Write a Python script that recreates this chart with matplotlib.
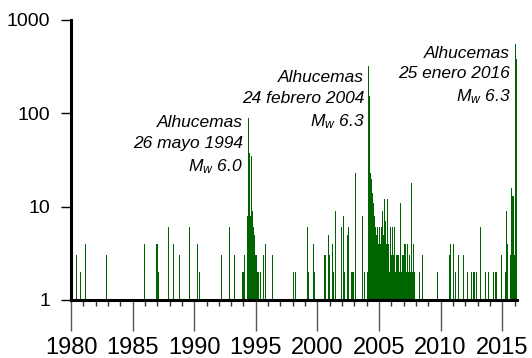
import numpy as np
import matplotlib.pyplot as plt
from matplotlib import font_manager
from matplotlib.ticker import FixedLocator, NullLocator

# monthly number of earthquakes (decimal year, count); months with 0-1 not shown
anios_a = [1980.43, 1980.78, 1981.19, 1982.90, 1985.98, 1986.95, 1987.04, 1987.12,
           1987.95, 1988.30, 1988.80, 1989.63, 1990.28, 1990.45, 1992.23, 1992.88,
           1993.31, 1993.96, 1994.12]
conteo_a = [3, 2, 4, 3, 4, 4, 4, 2,
            6, 4, 3, 6, 4, 2, 3, 6,
            3, 2, 3]

anios_b = [1994.29, 1994.375, 1994.46, 1994.54, 1994.625, 1994.71, 1994.79, 1994.875,
           1994.96, 1995.04, 1995.125, 1995.21, 1995.375, 1995.66, 1995.79, 1996.34,
           1998.04, 1998.21]
conteo_b = [8, 90, 38, 8, 35, 9, 6, 5,
            3, 3, 2, 2, 2, 3, 4, 3,
            2, 2]

anios_c = [1999.21, 1999.29, 1999.71, 1999.79, 2000.54, 2000.625, 2000.875, 2000.96,
           2001.21, 2001.29, 2001.46, 2001.96, 2002.125, 2002.21, 2002.46, 2002.54,
           2002.79, 2002.875, 2002.96, 2003.125, 2003.625, 2003.79, 2004.04]
conteo_c = [6, 2, 4, 2, 3, 3, 5, 3,
            4, 2, 9, 6, 8, 2, 5, 6,
            2, 2, 2, 23, 8, 2, 2]

# Feb 2004 .. Dec 2007, one value per month
conteo_d = [318, 153, 23, 20, 14, 11, 8, 6, 5, 6, 4,
            6, 4, 6, 9, 5, 12, 7, 4, 12, 4, 2, 6,
            3, 6, 3, 6, 2, 3, 3, 2, 11, 2, 3, 3,
            4, 4, 2, 4, 2, 3, 2, 18, 2, 4, 2, 0]
anios_d = [2004 + (m + 1.5) / 12 for m in range(len(conteo_d))]

anios_e = [2008.29, 2008.54, 2009.71, 2010.71, 2010.79, 2011.04, 2011.21, 2011.46,
           2011.875, 2012.21, 2012.54, 2012.71, 2012.875, 2013.21, 2013.625, 2013.875,
           2014.29, 2014.46, 2014.54, 2014.96, 2015.29, 2015.375, 2015.46, 2015.71,
           2015.79, 2015.875, 2015.96, 2016.04, 2016.125]
conteo_e = [2, 3, 2, 3, 4, 4, 2, 3,
            3, 2, 2, 2, 2, 6, 2, 2,
            2, 2, 2, 3, 2, 9, 4, 3,
            16, 13, 3, 550, 380]

anios = anios_a + anios_b + anios_c + anios_d + anios_e
conteos = conteo_a + conteo_b + conteo_c + conteo_d + conteo_e

notas = ["Alhucemas\n26 mayo 1994\n$M_w$ 6.0",
         "Alhucemas\n24 febrero 2004\n$M_w$ 6.3",
         "Alhucemas\n25 enero 2016\n$M_w$ 6.3"]
notas_x = [1993.95, 2003.8, 2015.65]
notas_y = [95, 290, 530]

nombres = {f.name for f in font_manager.fontManager.ttflist}
fuente = "Liberation Sans" if "Liberation Sans" in nombres else "DejaVu Sans"
estrecha = "Liberation Sans Narrow" if "Liberation Sans Narrow" in nombres else fuente

plt.rcParams["font.family"] = [fuente, "DejaVu Sans"]
plt.rcParams["mathtext.fontset"] = "custom"
plt.rcParams["mathtext.it"] = fuente + ":italic"
plt.rcParams["mathtext.rm"] = fuente + ":italic"

fig = plt.figure(figsize=(5.32, 3.58), dpi=100)
ax = fig.add_axes([71 / 532, 58 / 358, 446 / 532, 280 / 358])

y = np.array(conteos, dtype=float)
mask = y > 1
ax.bar(np.array(anios)[mask], y[mask] - 1, bottom=1, width=1 / 12,
       color="#006400", linewidth=0, align="center")

ax.set_yscale("log")
ax.set_ylim(1, 1000)
ax.set_xlim(1980, 2016.2)

ax.yaxis.set_major_locator(FixedLocator([1, 10, 100, 1000]))
ax.yaxis.set_minor_locator(NullLocator())
ax.set_yticklabels(["1", "10", "100", "1000"])
ax.xaxis.set_major_locator(FixedLocator(list(range(1980, 2016, 5))))
ax.xaxis.set_minor_locator(FixedLocator(list(range(1980, 2017))))

for s in ["top", "right"]:
    ax.spines[s].set_visible(False)
for s in ["left", "bottom"]:
    ax.spines[s].set_linewidth(2.2)
    ax.spines[s].set_zorder(5)

ax.tick_params(axis="y", which="major", length=7, width=1, pad=8, labelsize=14)
ax.tick_params(axis="x", which="major", length=22, width=1, color="#555555", pad=5,
               labelsize=17)
ax.tick_params(axis="x", which="minor", length=4, width=1, color="#333333")
for lab in ax.get_xticklabels():
    lab.set_family([estrecha, "DejaVu Sans"])

for texto, xn, yn in zip(notas, notas_x, notas_y):
    ax.text(xn, yn, texto, ha="right", va="top", multialignment="right",
            fontsize=12.5, style="italic", linespacing=1.45)

fig.savefig("out.png", dpi=100)
